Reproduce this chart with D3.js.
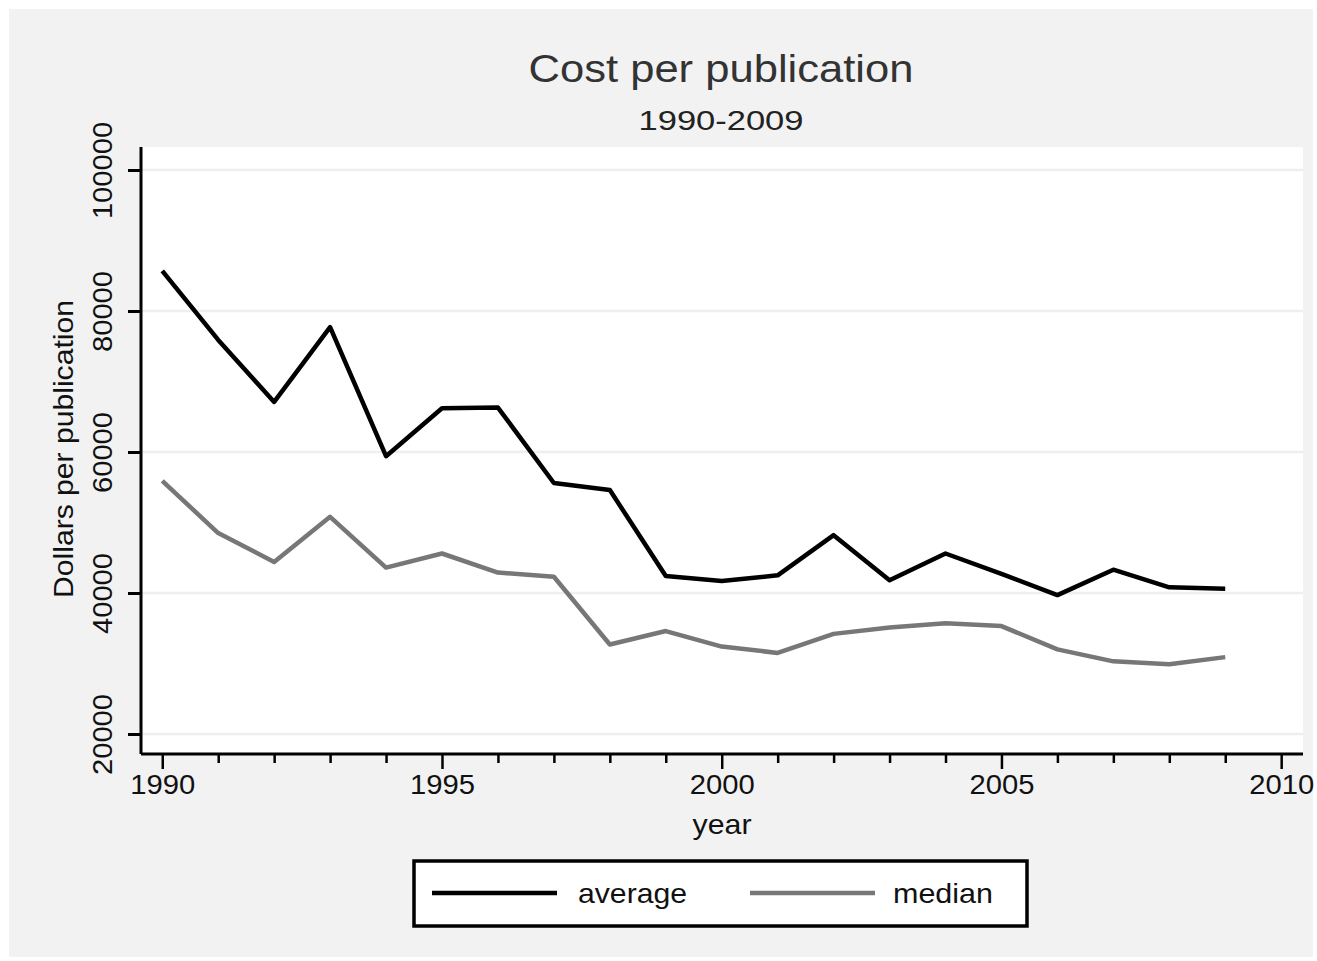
<!DOCTYPE html>
<html>
<head>
<meta charset="utf-8">
<script src="https://cdn.jsdelivr.net/npm/d3@7"></script>
<style>
  body { margin: 0; background: #fff; }
  text { font-family: "Liberation Sans", Arial, sans-serif; }
</style>
</head>
<body>
<div id="chart"></div>
<script>
var years = [1990, 1991, 1992, 1993, 1994, 1995, 1996, 1997, 1998, 1999,
	2000, 2001, 2002, 2003, 2004, 2005, 2006, 2007, 2008, 2009];
var average = [85700, 75900, 67100, 77700, 59400, 66200, 66300, 55600, 54600, 42400,
	41700, 42500, 48200, 41800, 45600, 42700, 39700, 43300, 40800, 40600];
var median = [55900, 48500, 44400, 50800, 43600, 45600, 42900, 42300, 32700, 34600,
	32400, 31500, 34200, 35100, 35700, 35300, 32000, 30300, 29900, 30900];
var yTicks = [20000, 40000, 60000, 80000, 100000];
var xTicks = [1990, 1995, 2000, 2005, 2010];

var width = 1317, height = 961;
var plot = {left: 141, right: 1303, top: 147, bottom: 754};

var svg = d3.select("#chart").append("svg")
	.attr("width", width)
	.attr("height", height);

svg.append("rect")
	.attr("x", 9).attr("y", 9)
	.attr("width", width - 13).attr("height", height - 13)
	.attr("fill", "#f2f2f2");

var x = d3.scaleLinear().domain([1989.62, 2010.39]).range([plot.left, plot.right]);
var y = d3.scaleLinear().domain([17160, 103260]).range([plot.bottom, plot.top]);

svg.append("rect")
	.attr("x", plot.left).attr("y", plot.top)
	.attr("width", plot.right - plot.left).attr("height", plot.bottom - plot.top)
	.attr("fill", "#fff");

// grid
svg.append("g").selectAll("line")
	.data(yTicks)
	.enter().append("line")
	.attr("x1", plot.left).attr("x2", plot.right)
	.attr("y1", function (d) { return y(d); })
	.attr("y2", function (d) { return y(d); })
	.attr("stroke", "#efefef")
	.attr("stroke-width", 2.5);

// y axis
var yAxis = svg.append("g")
	.attr("transform", "translate(" + plot.left + ",0)")
	.call(d3.axisLeft(y).tickValues(yTicks).tickSize(13).tickPadding(8).tickFormat(d3.format("d")));
yAxis.select(".domain").attr("stroke", "#000").attr("stroke-width", 3)
	.attr("d", "M0," + plot.top + "V" + plot.bottom);
yAxis.selectAll(".tick line").attr("stroke", "#000").attr("stroke-width", 3);
yAxis.selectAll(".tick text")
	.attr("transform", "rotate(-90)")
	.attr("x", 0).attr("y", -29)
	.attr("dy", 0)
	.attr("text-anchor", "middle")
	.attr("textLength", function (d) { return String(d).length * 16.2; })
	.attr("lengthAdjust", "spacingAndGlyphs")
	.style("font-size", "28px")
	.style("fill", "#111");

// x axis
var xAxis = svg.append("g")
	.attr("transform", "translate(0," + plot.bottom + ")")
	.call(d3.axisBottom(x).tickValues(d3.range(1990, 2011)).tickSize(9).tickPadding(8)
		.tickFormat(function (d) { return xTicks.indexOf(d) >= 0 ? d : ""; }));
xAxis.select(".domain").attr("stroke", "#000").attr("stroke-width", 3)
	.attr("d", "M" + plot.left + ",0H" + plot.right);
xAxis.selectAll(".tick line").attr("stroke", "#000").attr("stroke-width", 2.5)
	.attr("y2", function (d) { return xTicks.indexOf(d) >= 0 ? 15 : 9; });
xAxis.selectAll(".tick text")
	.attr("y", 20)
	.attr("textLength", function (d) { return xTicks.indexOf(d) >= 0 ? 65 : null; })
	.attr("lengthAdjust", "spacingAndGlyphs")
	.style("font-size", "28px")
	.style("fill", "#111");

// lines
var line = function (vals) {
	return d3.line()
		.x(function (d, i) { return x(years[i]); })
		.y(function (d) { return y(d); })(vals);
};
svg.append("path").attr("d", line(median))
	.attr("fill", "none").attr("stroke", "#777").attr("stroke-width", 4.5)
	.attr("stroke-linejoin", "round");
svg.append("path").attr("d", line(average))
	.attr("fill", "none").attr("stroke", "#000").attr("stroke-width", 4.5)
	.attr("stroke-linejoin", "round");

// titles
svg.append("text").text("Cost per publication")
	.attr("x", 721).attr("y", 82).attr("text-anchor", "middle")
	.attr("textLength", 385).attr("lengthAdjust", "spacingAndGlyphs")
	.style("font-size", "38px").style("fill", "#333");
svg.append("text").text("1990-2009")
	.attr("x", 721).attr("y", 130).attr("text-anchor", "middle")
	.attr("textLength", 165).attr("lengthAdjust", "spacingAndGlyphs")
	.style("font-size", "28px").style("fill", "#222");
svg.append("text").text("year")
	.attr("x", 722).attr("y", 834).attr("text-anchor", "middle")
	.attr("textLength", 59).attr("lengthAdjust", "spacingAndGlyphs")
	.style("font-size", "28px").style("fill", "#111");
svg.append("text").text("Dollars per publication")
	.attr("transform", "translate(73,449) rotate(-90)")
	.attr("text-anchor", "middle")
	.attr("textLength", 298).attr("lengthAdjust", "spacingAndGlyphs")
	.style("font-size", "28px").style("fill", "#111");

// legend
var legend = svg.append("g");
legend.append("rect")
	.attr("x", 414).attr("y", 861).attr("width", 613).attr("height", 65)
	.attr("fill", "#fff").attr("stroke", "#000").attr("stroke-width", 3.5);
var items = [
	{name: "average", color: "#000", x: 432, tx: 578, len: 109},
	{name: "median", color: "#777", x: 750, tx: 893, len: 100}
];
items.forEach(function (it) {
	legend.append("line")
		.attr("x1", it.x).attr("x2", it.x + 125)
		.attr("y1", 893).attr("y2", 893)
		.attr("stroke", it.color).attr("stroke-width", 4.5);
	legend.append("text").text(it.name)
		.attr("x", it.tx).attr("y", 903)
		.attr("textLength", it.len).attr("lengthAdjust", "spacingAndGlyphs")
		.style("font-size", "28px").style("fill", "#111");
});
</script>
</body>
</html>
